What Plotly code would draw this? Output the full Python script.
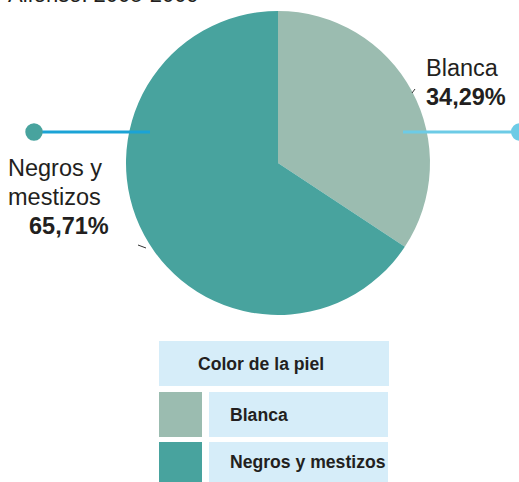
import plotly.graph_objects as go

categories = ["Blanca", "Negros y mestizos"]
values = [34.29, 65.71]
colors = ["#9bbcb0", "#48a39e"]
pct_labels = ["34,29%", "65,71%"]
legend_title = "Color de la piel"
subtitle = "Alfonso. 2005-2009"

W, H = 519, 482

def px(x):
    return x / W

def py(y):
    return 1 - y / H

fig = go.Figure()
fig.add_trace(go.Pie(
    labels=categories, values=values, sort=False, direction="clockwise", rotation=0,
    marker=dict(colors=colors, line=dict(width=0)), textinfo="none", hoverinfo="label+percent",
    domain=dict(x=[px(126), px(430)], y=[py(315), py(11)]), showlegend=False,
))

shapes = []
ann = []
font = "Liberation Sans, Arial, sans-serif"
txt = "#231f20"

# connector lines and dots
shapes.append(dict(type="line", xref="paper", yref="paper", x0=px(34), x1=px(150), y0=py(132), y1=py(132),
                   line=dict(color="#1ba3d6", width=3)))
shapes.append(dict(type="circle", xref="paper", yref="paper", x0=px(25.3), x1=px(42.7), y0=py(123.3), y1=py(140.7),
                   fillcolor="#48a39e", line=dict(width=0)))
shapes.append(dict(type="line", xref="paper", yref="paper", x0=px(403), x1=px(519), y0=py(132), y1=py(132),
                   line=dict(color="#6dcbe6", width=3)))
shapes.append(dict(type="circle", xref="paper", yref="paper", x0=px(511), x1=px(528.4), y0=py(123.3), y1=py(140.7),
                   fillcolor="#6dcbe6", line=dict(width=0)))
# small leader ticks
shapes.append(dict(type="line", xref="paper", yref="paper", x0=px(412), x1=px(415), y0=py(93), y1=py(89),
                   line=dict(color="#333333", width=1)))
shapes.append(dict(type="line", xref="paper", yref="paper", x0=px(138), x1=px(146), y0=py(245), y1=py(248),
                   line=dict(color="#333333", width=1)))

# slice labels
ann.append(dict(text=categories[0], x=px(424), y=py(68), xanchor="left", yanchor="middle",
                font=dict(family=font, size=23.5, color=txt)))
ann.append(dict(text="<b>" + pct_labels[0] + "</b>", x=px(424), y=py(97), xanchor="left", yanchor="middle",
                font=dict(family=font, size=23.5, color=txt)))
ann.append(dict(text="Negros y", x=px(6), y=py(168), xanchor="left", yanchor="middle",
                font=dict(family=font, size=23.5, color=txt)))
ann.append(dict(text="mestizos", x=px(6), y=py(197), xanchor="left", yanchor="middle",
                font=dict(family=font, size=23.5, color=txt)))
ann.append(dict(text="<b>" + pct_labels[1] + "</b>", x=px(27), y=py(226), xanchor="left", yanchor="middle",
                font=dict(family=font, size=23.5, color=txt)))

# cut-off subtitle at top (only its lower edge is visible, as in the source)
ann.append(dict(text=subtitle, x=px(6), y=py(-5.5), xanchor="left", yanchor="middle",
                font=dict(family=font, size=22, color=txt)))

# legend table
box = "#d6edf9"
lsize = 17.6
shapes.append(dict(type="rect", xref="paper", yref="paper", x0=px(159), x1=px(389), y0=py(341), y1=py(386),
                   fillcolor=box, line=dict(width=0)))
ann.append(dict(text="<b>" + legend_title + "</b>", x=px(196), y=py(364), xanchor="left", yanchor="middle",
                font=dict(family=font, size=lsize, color=txt)))
rows = [(392, 437), (442, 482)]
for (y0, y1), cat, col in zip(rows, categories, colors):
    shapes.append(dict(type="rect", xref="paper", yref="paper", x0=px(159), x1=px(202), y0=py(y0), y1=py(y1),
                       fillcolor=col, line=dict(width=0)))
    shapes.append(dict(type="rect", xref="paper", yref="paper", x0=px(209), x1=px(388), y0=py(y0), y1=py(y1),
                       fillcolor=box, line=dict(width=0)))
    ann.append(dict(text="<b>" + cat + "</b>", x=px(228), y=py((y0 + y1) / 2), xanchor="left", yanchor="middle",
                    font=dict(family=font, size=lsize, color=txt)))

for a in ann:
    a.update(xref="paper", yref="paper", showarrow=False)

fig.update_layout(width=W, height=H, margin=dict(l=0, r=0, t=0, b=0), paper_bgcolor="white",
                  plot_bgcolor="white", shapes=shapes, annotations=ann)
fig.write_html("out.html", config=dict(displayModeBar=False),
               post_script="document.body.style.margin='0';document.body.style.overflow='hidden';")
